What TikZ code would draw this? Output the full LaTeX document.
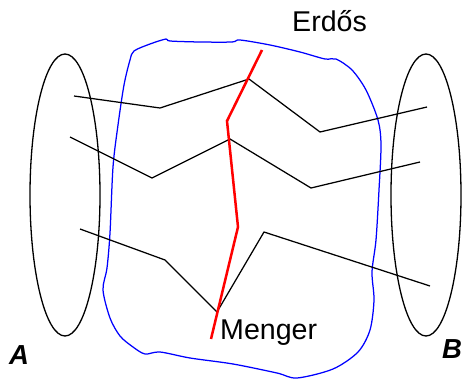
\documentclass[tikz,border=0pt]{standalone}
\usepackage{fontspec}
\setmainfont{Liberation Sans}
\begin{document}
\begin{tikzpicture}[x=1pt,y=-1pt,
  lbl/.style={font=\fontsize{28.6}{30}\selectfont, inner sep=0pt, anchor=base west},
  setlbl/.style={font=\fontsize{27.5}{30}\selectfont\bfseries\itshape, inner sep=0pt, anchor=base west},
  pathline/.style={black, line width=1.25pt, line join=miter},
  redline/.style={red, line width=2.5pt, line join=miter},
  setell/.style={black, line width=1.3pt},
  region/.style={blue, line width=1.25pt}]
\useasboundingbox (0,0) rectangle (464,380);
% sets
\draw[setell] (65,195) ellipse [x radius=35, y radius=141];
\draw[setell] (426,195) ellipse [x radius=35, y radius=141];
% blue region
\draw[region] plot[smooth cycle, tension=0.5] coordinates {
 (134,51) (150,44) (166,39) (170,41) (200,42) (232,42) (240,40) (270,45) (300,52) (325,59) (336,59)
 (352,70) (366,90) (378,120) (381,145) (379,190) (376,240) (372,272) (374,300) (370,330) (358,352)
 (333,369) (297,378) (277,373) (233,364) (190,358) (160,352) (145,354) (133,347) (120,336) (110,318) (103,290)
 (107,268) (110,233) (113,167) (118,125) (124,85) (130,60)};
% paths
\coordinate (a1) at (74,96);   \coordinate (b1) at (427,107);
\coordinate (a2) at (70,137);  \coordinate (b2) at (420,162);
\coordinate (a3) at (80,229);  \coordinate (b3) at (430,286);
\draw[pathline] (a1) -- (160,108) -- (249,79) -- (320,132) -- (b1);
\draw[pathline] (a2) -- (152,178) -- (230,139) -- (311,188) -- (b2);
\draw[pathline] (a3) -- (165,260) -- (217,312) -- (264,232) -- (b3);
% separator
\coordinate (r0) at (262,50); \coordinate (r3) at (211,339);
\draw[redline] (r0) -- (227,121) -- (238,227) -- (r3);
% labels
\node[lbl] (erdos) at (292,31) {Erdős};
\node[lbl] (menger) at (220,339) {Menger};
\node[setlbl] (A) at (9,364) {A};
\node[setlbl] (B) at (442,358) {B};
\end{tikzpicture}
\end{document}
